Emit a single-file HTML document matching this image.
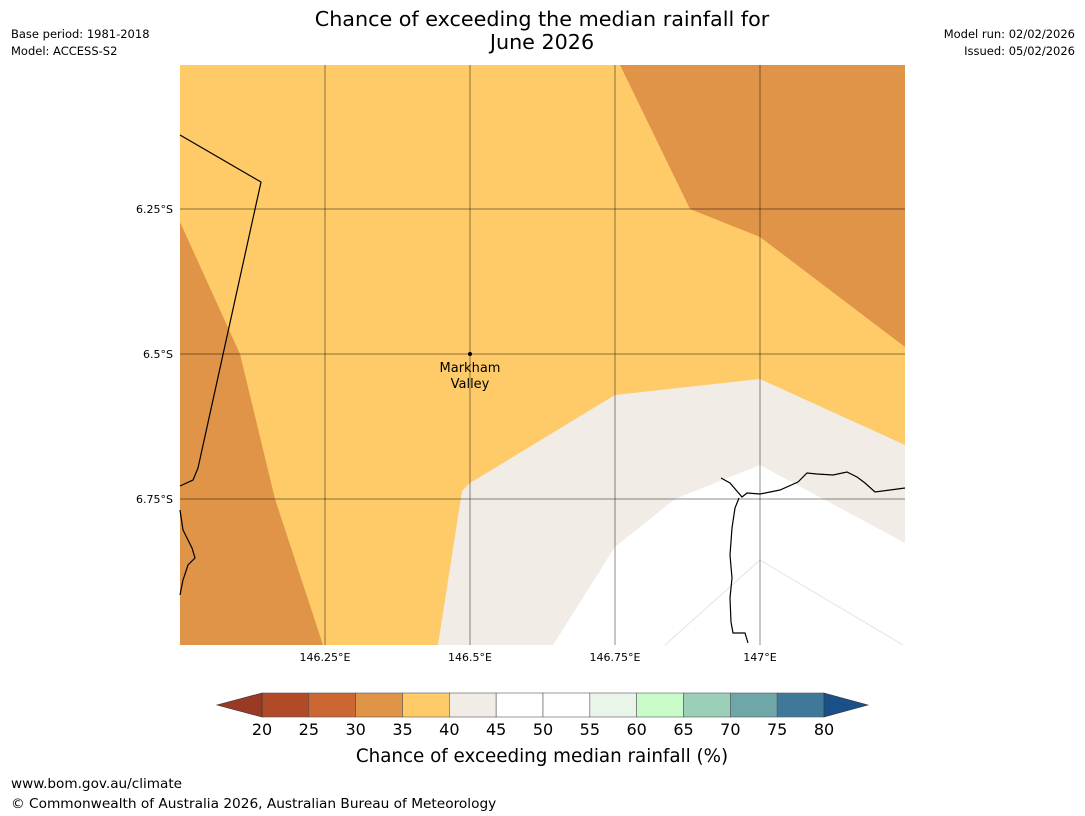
<!DOCTYPE html>
<html><head><meta charset="utf-8"><style>
body{margin:0;width:1085px;height:816px;background:#fff;font-family:"DejaVu Sans","Liberation Sans",sans-serif;overflow:hidden}
svg{position:absolute;left:0;top:0}
</style></head><body>
<svg width="1085" height="816">
<text x="542" y="26" text-anchor="middle" font-size="20.7">Chance of exceeding the median rainfall for</text>
<text x="542" y="49" text-anchor="middle" font-size="20.7">June 2026</text>
<text x="11" y="38" font-size="11.5">Base period: 1981-2018</text>
<text x="11" y="55" font-size="11.5">Model: ACCESS-S2</text>
<text x="1075" y="38" font-size="11.5" text-anchor="end">Model run: 02/02/2026</text>
<text x="1075" y="55" font-size="11.5" text-anchor="end">Issued: 05/02/2026</text>
<g>
<rect x="180" y="65" width="725" height="580" fill="#fecb68"/>
<polygon points="620,65 690,209 760,237 905,347 905,65" fill="#e09448"/>
<polygon points="180,222 240,354 275,499 323,645 180,645" fill="#e09448"/>
<polygon points="438,645 462,491 470,483 615,395 760,379 905,445 905,645" fill="#f1ece6"/>
<polygon points="553,645 615,547 675,499 760,465 905,543 905,645" fill="#ffffff"/>
<polyline points="665,645 760,560 903,645" fill="none" stroke="#e8e2dc" stroke-width="1"/>
<g stroke="#000" stroke-opacity="0.45" stroke-width="1">
<line x1="325" y1="65" x2="325" y2="645"/><line x1="470" y1="65" x2="470" y2="645"/><line x1="615" y1="65" x2="615" y2="645"/><line x1="760" y1="65" x2="760" y2="645"/>
<line x1="180" y1="209" x2="905" y2="209"/><line x1="180" y1="354" x2="905" y2="354"/><line x1="180" y1="499" x2="905" y2="499"/>
</g>
<g fill="none" stroke="#000" stroke-width="1.2">
<polyline points="180,135 261,182 198,468 193,480 180,486"/>
<polyline points="180,510 183,530 188,540 192,548 195,558 188,565 183,580 180,595"/>
<polyline points="721,478 730,483 742,497 747,493 760,494 780,490 798,482 807,473 817,474 833,475 847,472 857,477 865,483 875,492 890,490 905,488"/>
<polyline points="739,498 735,508 732,528 730,555 732,578 730,598 731,622 733,633 745,633 748,643"/>
</g>
<circle cx="470" cy="354" r="2" fill="#000"/>
<text x="470" y="372" font-size="13" text-anchor="middle">Markham</text>
<text x="470" y="388" font-size="13" text-anchor="middle">Valley</text>
</g>
<g font-size="11">
<text x="173" y="213" text-anchor="end">6.25°S</text>
<text x="173" y="358" text-anchor="end">6.5°S</text>
<text x="173" y="503" text-anchor="end">6.75°S</text>
<text x="325" y="661" text-anchor="middle">146.25°E</text>
<text x="470" y="661" text-anchor="middle">146.5°E</text>
<text x="615" y="661" text-anchor="middle">146.75°E</text>
<text x="760" y="661" text-anchor="middle">147°E</text>
</g>
<g id="cbar"></g>
<text x="542" y="762" font-size="18.3" text-anchor="middle">Chance of exceeding median rainfall (%)</text>
<text x="11" y="788" font-size="13.6">www.bom.gov.au/climate</text>
<text x="11" y="808" font-size="13.7">© Commonwealth of Australia 2026, Australian Bureau of Meteorology</text>
</svg>
<script>
const ticks=[20,25,30,35,40,45,50,55,60,65,70,75,80];
const colors=["#b04a27","#cc6633","#e09448","#fecb68","#f1ece6","#ffffff","#ffffff","#eaf5e9","#c8fbc8","#9ccfb8","#6fa6a8","#3f7898"];
const g=document.getElementById('cbar');const NS="http://www.w3.org/2000/svg";
const x=v=>262+(v-20)*(824-262)/60;
colors.forEach((c,i)=>{const r=document.createElementNS(NS,'rect');
r.setAttribute('x',x(ticks[i]));r.setAttribute('y',693);r.setAttribute('width',x(ticks[i+1])-x(ticks[i]));r.setAttribute('height',24);
r.setAttribute('fill',c);r.setAttribute('stroke','#555');r.setAttribute('stroke-width','0.6');


g.appendChild(r);});
[["262,693 217,705 262,717","#9a3a24"],["824,693 868,705 824,717","#1a5088"]].forEach(p=>{const e=document.createElementNS(NS,'polygon');
e.setAttribute('points',p[0]);e.setAttribute('fill',p[1]);e.setAttribute('stroke','#333');e.setAttribute('stroke-width','0.6');


g.appendChild(e);});
ticks.forEach(t=>{const e=document.createElementNS(NS,'text');e.setAttribute('x',x(t));e.setAttribute('y',735);
e.setAttribute('text-anchor','middle');e.setAttribute('font-size','16');e.textContent=t;


g.appendChild(e);});
</script>
</body></html>
